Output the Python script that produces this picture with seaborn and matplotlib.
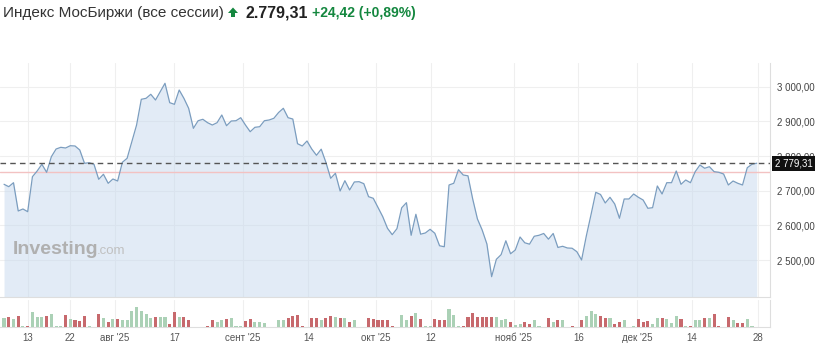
import numpy as np
import pandas as pd
import seaborn as sns
import matplotlib
matplotlib.use("Agg")
import matplotlib.pyplot as plt
import matplotlib.transforms as mtransforms
from matplotlib.patches import Polygon
from matplotlib.ticker import FuncFormatter, FixedLocator

# ---------------- data ----------------
close = [
    2718.5, 2711.6, 2723.1, 2641.5, 2647.3, 2639.5, 2740.4, 2756.9, 2776.2, 2753.1,
    2798.1, 2820.3, 2825.2, 2823.2, 2829.8, 2829.0, 2817.4, 2779.1, 2780.8, 2776.2,
    2732.9, 2747.4, 2721.4, 2733.8, 2728.0, 2782.0, 2793.5, 2841.4, 2889.5, 2963.7,
    2966.5, 2978.1, 2961.6, 2985.6, 3009.8, 2953.9, 2949.2, 2990.5, 2966.5, 2937.7,
    2880.0, 2901.9, 2906.0, 2896.2, 2889.5, 2896.2, 2918.4, 2887.5, 2901.1, 2901.9,
    2910.6, 2889.5, 2870.2, 2882.9, 2884.6, 2901.9, 2904.0, 2908.9, 2925.6, 2937.7,
    2910.6, 2906.8, 2835.6, 2829.0, 2843.4, 2820.3, 2802.2, 2819.8, 2781.4, 2735.8,
    2750.2, 2699.2, 2728.9, 2702.1, 2725.2, 2726.0, 2720.3, 2682.8, 2678.1, 2651.6,
    2625.1, 2591.6, 2573.2, 2590.5, 2650.7, 2665.5, 2571.4, 2632.0, 2574.6, 2578.1,
    2588.7, 2577.2, 2541.2, 2538.3, 2716.5, 2721.4, 2760.6, 2745.3, 2743.0, 2676.1,
    2618.5, 2586.7, 2546.3, 2452.0, 2502.2, 2515.5, 2555.6, 2518.1, 2529.0, 2566.5,
    2549.8, 2545.8, 2568.6, 2571.4, 2576.6, 2560.2, 2576.6, 2536.3, 2539.7, 2534.8,
    2534.0, 2524.1, 2500.2, 2569.4, 2631.4, 2695.4, 2689.1, 2664.6, 2681.0, 2661.7,
    2620.5, 2676.1, 2676.1, 2690.5, 2681.0, 2673.2, 2649.3, 2651.0, 2713.6, 2690.5,
    2723.1, 2723.1, 2756.9, 2718.5, 2730.9, 2723.1, 2754.9, 2774.2, 2764.7, 2769.3,
    2754.9, 2753.1, 2748.2, 2716.5, 2728.0, 2721.4, 2716.5, 2766.4, 2776.2, 2779.31,
]

volume = [
    9.3, 10.0, 7.7, 11.0, 0.7, 0.7, 15.0, 10.0, 10.3, 11.0,
    13.3, 0.7, 0.7, 11.7, 7.7, 6.7, 6.0, 11.0, 0.7, 0.0,
    12.7, 9.3, 5.3, 7.7, 7.7, 6.7, 6.7, 16.0, 20.3, 16.0,
    12.7, 9.3, 10.0, 10.3, 10.3, 2.7, 15.3, 10.0, 10.0, 6.7,
    0.0, 0.0, 0.0, 0.7, 6.7, 5.3, 6.7, 7.7, 8.7, 0.7,
    0.7, 6.0, 7.7, 5.0, 5.0, 4.3, 0.0, 0.0, 6.7, 6.7,
    8.7, 11.0, 11.7, 0.7, 0.0, 8.7, 8.7, 6.7, 9.3, 11.0,
    10.0, 9.3, 8.7, 5.3, 6.7, 0.0, 0.0, 9.3, 7.7, 6.7,
    6.7, 6.7, 0.7, 0.0, 11.7, 6.7, 11.0, 14.3, 7.7, 0.7,
    0.7, 8.3, 6.7, 6.7, 17.7, 12.0, 0.7, 0.7, 10.0, 14.3,
    10.0, 10.0, 10.0, 10.0, 10.0, 7.0, 7.7, 5.3, 2.0, 3.3,
    5.3, 3.3, 6.7, 0.7, 0.0, 8.7, 5.3, 6.7, 6.7, 0.0,
    0.7, 0.0, 6.7, 11.0, 16.0, 13.3, 11.0, 8.7, 8.7, 3.3,
    5.3, 6.7, 0.0, 0.7, 7.7, 5.3, 6.0, 3.3, 8.7, 8.7,
    7.7, 4.3, 11.0, 7.7, 0.7, 0.7, 7.0, 7.0, 8.7, 9.3,
    12.7, 0.7, 0.0, 10.0, 6.7, 4.3, 4.3, 7.7, 0.7, 0.0,
]

tick_labels = ["13", "22", "авг '25", "17", "сент '25", "14", "окт '25",
               "12", "нояб '25", "16", "дек '25", "14", "28"]
tick_index = [5.0, 13.9, 23.4, 36.0, 50.5, 64.3, 78.6,
              90.2, 107.7, 121.3, 133.8, 145.3, 159.2]
price_ticks = [2500, 2600, 2700, 2800, 2900, 3000]

last_price = 2779.31
prev_close = 2754.89
change = 24.42
change_pct = 0.89
title = "Индекс МосБиржи (все сессии)"

# ---------------- frame ----------------
n = len(close)
df = pd.DataFrame({"i": np.arange(n), "close": close, "volume": volume})
diff = np.diff(np.r_[close[0], close])
df["dir"] = np.where(diff >= 0, "up", "down")

sns.set_theme(style="white")
plt.rcParams["font.family"] = ["Liberation Sans", "DejaVu Sans"]

W, H = 817, 347
fig = plt.figure(figsize=(W / 100, H / 100), dpi=100)

def box(l, t, r, b):
    return [l / W, 1 - b / H, (r - l) / W, (b - t) / H]

ax = fig.add_axes(box(0, 63, 770, 297))
axv = fig.add_axes(box(0, 300, 770, 327), sharex=ax)

ymin, ymax = 2393.4, 3068.4
xmin, xmax = -0.85, 161.8

grid_c = "#efefef"
for a in (ax, axv):
    for x in tick_index:
        a.axvline(x, color=grid_c, lw=0.8, zorder=0)
for y in price_ticks:
    ax.axhline(y, color=grid_c, lw=0.8, zorder=0)

ax.fill_between(df["i"], df["close"], ymin, color="#c6d9ee", alpha=0.5, lw=0, zorder=1)
sns.lineplot(data=df, x="i", y="close", ax=ax, color="#7b9dbf", lw=0.9, zorder=3)

ax.axhline(prev_close, color="#f3c2c2", lw=1.0, zorder=2)
ax.axhline(last_price, color="#555555", lw=1.0, ls=(0, (4, 3)), zorder=4)

ax.set_xlim(xmin, xmax)
ax.set_ylim(ymin, ymax)
ax.set_xlabel("")
ax.set_ylabel("")
ax.yaxis.tick_right()
ax.yaxis.set_major_locator(FixedLocator(price_ticks))
ax.yaxis.set_major_formatter(FuncFormatter(
    lambda v, p: f"{v:,.2f}".replace(",", " ").replace(".", ",")))
ax.tick_params(axis="y", length=0, pad=5, labelsize=7, labelcolor="#444444")
ax.tick_params(axis="x", bottom=False, labelbottom=False)
for s in ("top", "left"):
    ax.spines[s].set_visible(False)
for s in ("right", "bottom"):
    ax.spines[s].set_color("#dedede")
    ax.spines[s].set_linewidth(0.8)

# price tag
trans = mtransforms.blended_transform_factory(ax.transAxes, ax.transData)
ax.text(1.006, last_price, f"{last_price:,.2f}".replace(",", " ").replace(".", ","),
        transform=trans, ha="left", va="center", fontsize=7, color="white",
        bbox=dict(boxstyle="square,pad=0.25", fc="#111111", ec="none"),
        zorder=10, clip_on=False)

# watermark
ax.text(0.016, 0.183, "Investing", transform=ax.transAxes, fontsize=14,
        fontweight="bold", color="#b0b0b0", ha="left", va="baseline", zorder=2)
ax.text(0.125, 0.183, ".com", transform=ax.transAxes, fontsize=9.5,
        color="#c0c0c0", ha="left", va="baseline", zorder=2)

# volume
sns.barplot(data=df, x="i", y="volume", hue="dir", ax=axv, native_scale=True,
            palette={"up": "#a5d7b3", "down": "#d65a5f"}, dodge=False,
            width=0.65, legend=False, zorder=3, linewidth=0)
axv.set_xlim(xmin, xmax)
axv.set_ylim(0, 27)
axv.set_xlabel("")
axv.set_ylabel("")
axv.set_yticks([])
axv.xaxis.set_major_locator(FixedLocator(tick_index))
axv.set_xticklabels(tick_labels)
axv.tick_params(axis="x", length=0, pad=4, labelsize=7, labelcolor="#555555")
for s in ("top", "left"):
    axv.spines[s].set_visible(False)
for s in ("right", "bottom"):
    axv.spines[s].set_color("#dedede")
    axv.spines[s].set_linewidth(0.8)

# header
ty = 1 - 13 / H
fig.text(3 / W, ty, title, fontsize=11, color="#333333", ha="left", va="center")
green = "#14873f"
arrow = [(228, 13), (233, 7.5), (238, 13), (235, 13), (235, 17), (231, 17), (231, 13)]
fig.patches.append(Polygon([(x / W, 1 - y / H) for x, y in arrow], closed=True,
                           transform=fig.transFigure, fc=green, ec="none"))
fig.text(245 / W, ty, f"{last_price:,.2f}".replace(",", " ").replace(".", ",").replace(" ", "."),
         fontsize=11.5, fontweight="bold", color="#222222", ha="left", va="center")
fig.text(312 / W, ty, f"+{change:.2f} (+{change_pct:.2f}%)".replace(".", ","),
         fontsize=10, fontweight="bold", color=green, ha="left", va="center")

fig.savefig("out.png", dpi=100)
